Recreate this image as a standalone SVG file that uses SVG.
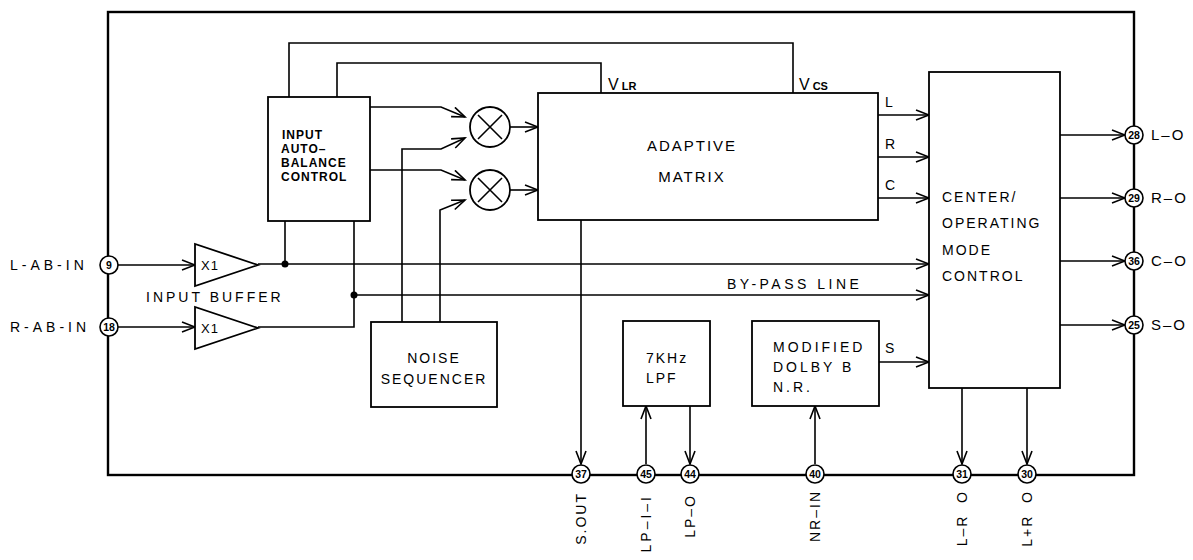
<svg xmlns="http://www.w3.org/2000/svg" width="1193" height="560" viewBox="0 0 1193 560">
<style>
.ln{fill:none;stroke:#000;stroke-width:1.6}
.bx{fill:#fff;stroke:#000;stroke-width:1.8}
.fr{fill:none;stroke:#000;stroke-width:2.4}
.pin{fill:#fff;stroke:#000;stroke-width:1.6}
.t{font-family:"Liberation Sans",Arial,sans-serif;font-size:14px;fill:#000;letter-spacing:2px}
.ab{font-family:"Liberation Sans",Arial,sans-serif;font-size:12px;font-weight:bold;fill:#000;letter-spacing:1px}
.pn{font-family:"Liberation Sans",Arial,sans-serif;font-size:10.5px;font-weight:bold;fill:#000;text-anchor:middle}
.dot{fill:#000}
</style>
<defs>
<marker id="arr" markerUnits="userSpaceOnUse" markerWidth="16" markerHeight="12" refX="14" refY="6" orient="auto" viewBox="0 0 16 12">
<path d="M1,1 L14,6 L1,11" fill="none" stroke="#000" stroke-width="1.6"/>
</marker>
</defs>
<rect width="1193" height="560" fill="#fff"/>
<g id="frame">
<rect class="fr" x="108" y="12" width="1026" height="463"/>
</g>
<g id="connectors">
<line class="ln" x1="118" y1="265" x2="195" y2="265" marker-end="url(#arr)"/>
<line class="ln" x1="118" y1="327" x2="195" y2="327" marker-end="url(#arr)"/>
<line class="ln" x1="258" y1="264" x2="929" y2="264" marker-end="url(#arr)"/>
<line class="ln" x1="285" y1="264" x2="285" y2="221"/>
<polyline class="ln" points="258,327 354,327 354,221"/>
<line class="ln" x1="354" y1="295" x2="929" y2="295" marker-end="url(#arr)"/>
<polyline class="ln" points="289,97 289,43 793,43 793,93"/>
<polyline class="ln" points="337,97 337,63 601,63 601,93"/>
<polyline class="ln" points="370,107 441,107 465,117" marker-end="url(#arr)"/>
<polyline class="ln" points="402,322 402,149 441,149 465,138" marker-end="url(#arr)"/>
<polyline class="ln" points="370,170 441,170 465,180" marker-end="url(#arr)"/>
<polyline class="ln" points="440,322 440,210 465,200" marker-end="url(#arr)"/>
<line class="ln" x1="510" y1="127" x2="538" y2="127" marker-end="url(#arr)"/>
<line class="ln" x1="510" y1="190" x2="538" y2="190" marker-end="url(#arr)"/>
<line class="ln" x1="878" y1="115" x2="929" y2="115" marker-end="url(#arr)"/>
<line class="ln" x1="878" y1="157" x2="929" y2="157" marker-end="url(#arr)"/>
<line class="ln" x1="878" y1="198" x2="929" y2="198" marker-end="url(#arr)"/>
<line class="ln" x1="879" y1="362" x2="929" y2="362" marker-end="url(#arr)"/>
<line class="ln" x1="1060" y1="135" x2="1125" y2="135" marker-end="url(#arr)"/>
<line class="ln" x1="1060" y1="198" x2="1125" y2="198" marker-end="url(#arr)"/>
<line class="ln" x1="1060" y1="261" x2="1125" y2="261" marker-end="url(#arr)"/>
<line class="ln" x1="1060" y1="325" x2="1125" y2="325" marker-end="url(#arr)"/>
<line class="ln" x1="581" y1="220" x2="581" y2="464" marker-end="url(#arr)"/>
<line class="ln" x1="646" y1="464" x2="646" y2="406" marker-end="url(#arr)"/>
<line class="ln" x1="690" y1="406" x2="690" y2="464" marker-end="url(#arr)"/>
<line class="ln" x1="815" y1="464" x2="815" y2="406" marker-end="url(#arr)"/>
<line class="ln" x1="962" y1="388" x2="962" y2="464" marker-end="url(#arr)"/>
<line class="ln" x1="1027" y1="388" x2="1027" y2="464" marker-end="url(#arr)"/>
<circle class="dot" cx="285" cy="264" r="3.5"/>
<circle class="dot" cx="354" cy="295" r="3.5"/>
<text class="t" x="727" y="289" style="letter-spacing:3.5px">BY-PASS LINE</text>
<text class="t" x="608" y="90" style="font-size:16px;letter-spacing:0">V<tspan style="font-size:11px;font-weight:bold" dx="3">LR</tspan></text>
<text class="t" x="799" y="90" style="font-size:16px;letter-spacing:0">V<tspan style="font-size:11px;font-weight:bold" dx="3">CS</tspan></text>
<text class="t" x="885" y="107">L</text>
<text class="t" x="885" y="149">R</text>
<text class="t" x="885" y="190">C</text>
<text class="t" x="885" y="353">S</text>
</g>
<g id="buf-l">
<polygon class="bx" points="195,244 195,286 258,265"/>
<text class="t" x="201" y="270" style="font-size:13px;letter-spacing:1px">X1</text>
</g>
<g id="buf-r">
<polygon class="bx" points="195,307 195,349 258,328"/>
<text class="t" x="201" y="333" style="font-size:13px;letter-spacing:1px">X1</text>
</g>
<text class="t" x="146" y="302" style="letter-spacing:3px">INPUT BUFFER</text>
<g id="autobalance">
<rect class="bx" x="268" y="97" width="102" height="124"/>
<text class="ab" x="282" y="139">INPUT</text>
<text class="ab" x="281" y="153">AUTO–</text>
<text class="ab" x="281" y="167">BALANCE</text>
<text class="ab" x="281" y="181">CONTROL</text>
</g>
<g id="mult1">
<circle class="bx" cx="490" cy="127" r="20"/>
<path class="ln" d="M478,115 L502,139 M502,115 L478,139"/>
</g>
<g id="mult2">
<circle class="bx" cx="490" cy="190" r="20"/>
<path class="ln" d="M478,178 L502,202 M502,178 L478,202"/>
</g>
<g id="matrix">
<rect class="bx" x="538" y="93" width="340" height="127"/>
<text class="t" x="692" y="151" text-anchor="middle" style="font-size:15px">ADAPTIVE</text>
<text class="t" x="692" y="182" text-anchor="middle" style="font-size:15px">MATRIX</text>
</g>
<g id="center">
<rect class="bx" x="929" y="72" width="131" height="316"/>
<text class="t" x="942" y="202">CENTER/</text>
<text class="t" x="942" y="228">OPERATING</text>
<text class="t" x="942" y="255">MODE</text>
<text class="t" x="942" y="281">CONTROL</text>
</g>
<g id="noise">
<rect class="bx" x="371" y="322" width="126" height="85"/>
<text class="t" x="434" y="363" text-anchor="middle">NOISE</text>
<text class="t" x="434" y="384" text-anchor="middle">SEQUENCER</text>
</g>
<g id="lpf">
<rect class="bx" x="623" y="321" width="87" height="85"/>
<text class="t" x="646" y="363">7KHz</text>
<text class="t" x="646" y="383">LPF</text>
</g>
<g id="dolby">
<rect class="bx" x="752" y="321" width="127" height="85"/>
<text class="t" x="773" y="352" style="letter-spacing:3px">MODIFIED</text>
<text class="t" x="773" y="372" style="letter-spacing:3px">DOLBY B</text>
<text class="t" x="773" y="392" style="letter-spacing:3px">N.R.</text>
</g>
<g id="pin9"><circle class="pin" cx="109" cy="265" r="9"/><text class="pn" x="109" y="269">9</text><text class="t" x="10" y="270" style="letter-spacing:4px">L-AB-IN</text></g>
<g id="pin18"><circle class="pin" cx="109" cy="327" r="9"/><text class="pn" x="109" y="331">18</text><text class="t" x="10" y="332" style="letter-spacing:4px">R-AB-IN</text></g>
<g id="pin28"><circle class="pin" cx="1134" cy="135" r="9"/><text class="pn" x="1134" y="139">28</text><text class="t" x="1151" y="140" style="font-size:15px;letter-spacing:2px">L–O</text></g>
<g id="pin29"><circle class="pin" cx="1134" cy="198" r="9"/><text class="pn" x="1134" y="202">29</text><text class="t" x="1151" y="203" style="font-size:15px;letter-spacing:2px">R–O</text></g>
<g id="pin36"><circle class="pin" cx="1134" cy="261" r="9"/><text class="pn" x="1134" y="265">36</text><text class="t" x="1151" y="266" style="font-size:15px;letter-spacing:2px">C–O</text></g>
<g id="pin25"><circle class="pin" cx="1134" cy="325" r="9"/><text class="pn" x="1134" y="329">25</text><text class="t" x="1151" y="330" style="font-size:15px;letter-spacing:2px">S–O</text></g>
<g id="pin37"><circle class="pin" cx="581" cy="474" r="9"/><text class="pn" x="581" y="478">37</text><text class="t" transform="translate(586,492) rotate(-90)" text-anchor="end">S.OUT</text></g>
<g id="pin45"><circle class="pin" cx="646" cy="474" r="9"/><text class="pn" x="646" y="478">45</text><text class="t" transform="translate(651,494) rotate(-90)" text-anchor="end" style="letter-spacing:3px">LP–I–I</text></g>
<g id="pin44"><circle class="pin" cx="690" cy="474" r="9"/><text class="pn" x="690" y="478">44</text><text class="t" transform="translate(695,494) rotate(-90)" text-anchor="end">LP–O</text></g>
<g id="pin40"><circle class="pin" cx="815" cy="474" r="9"/><text class="pn" x="815" y="478">40</text><text class="t" transform="translate(820,490) rotate(-90)" text-anchor="end">NR–IN</text></g>
<g id="pin31"><circle class="pin" cx="962" cy="474" r="9"/><text class="pn" x="962" y="478">31</text><text class="t" transform="translate(967,490) rotate(-90)" text-anchor="end" xml:space="preserve">L–R  O</text></g>
<g id="pin30"><circle class="pin" cx="1027" cy="474" r="9"/><text class="pn" x="1027" y="478">30</text><text class="t" transform="translate(1032,490) rotate(-90)" text-anchor="end" xml:space="preserve">L+R  O</text></g>
</svg>
